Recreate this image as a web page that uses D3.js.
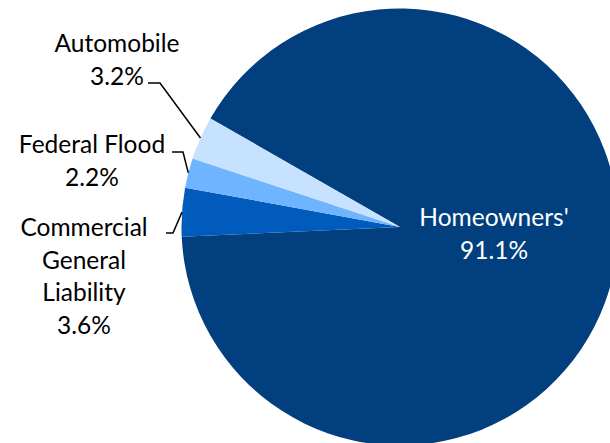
<!DOCTYPE html>
<html>
<head>
<meta charset="utf-8">
<script src="https://cdn.jsdelivr.net/npm/d3@7"></script>
<style>
  html, body { margin: 0; padding: 0; background: #fff; }
  svg { display: block; }
</style>
</head>
<body>
<div id="chart"></div>
<script>
// data
const categories = ["Homeowners'", "Commercial General Liability", "Federal Flood", "Automobile"];
const values = [91.1, 3.6, 2.2, 3.2];
const colors = ["#023f7e", "#005bbd", "#6eb4ff", "#c6e2ff"];

const width = 610, height = 443;
const cx = 400, cy = 227, r = 218.5;
const font = "Lato, 'Open Sans', sans-serif";
const fs = 24.5;

const svg = d3.select("#chart").append("svg")
    .attr("width", width)
    .attr("height", height)
    .style("overflow", "hidden");

const g = svg.append("g").attr("transform", `translate(${cx},${cy})`);

const start = -60.2 * Math.PI / 180;
const pie = d3.pie().sort(null).value(d => d)
    .startAngle(start).endAngle(start + 2 * Math.PI);
const arcs = pie(values);
const arc = d3.arc().innerRadius(0).outerRadius(r);

g.selectAll("path.slice")
    .data(arcs).enter()
    .append("path")
    .attr("class", "slice")
    .attr("d", arc)
    .attr("fill", (d, i) => colors[i]);

// label layout (lines, anchor x, first baseline, elbow)
const labels = [
    { lines: ["Homeowners'", "91.1%"], x: 494, y: 226, fill: "#fff" },
    { lines: ["Commercial", "General", "Liability", "3.6%"], x: 84, y: 236, fill: "#000",
      elbow: [[166, 233], [173, 233]] },
    { lines: ["Federal Flood", "2.2%"], x: 92, y: 153, fill: "#000",
      elbow: [[172, 152], [183, 152]] },
    { lines: ["Automobile", "3.2%"], x: 117, y: 52, fill: "#000",
      elbow: [[148, 83], [160, 83]] }
];

labels.forEach((l, i) => {
    const t = svg.append("text")
        .attr("text-anchor", "middle")
        .attr("font-family", font)
        .attr("font-size", fs)
        .attr("fill", l.fill);
    l.lines.forEach((s, k) => {
        t.append("tspan").attr("x", l.x).attr("y", l.y + k * 32.5).text(s);
    });
    if (l.elbow) {
        const a = (arcs[i].startAngle + arcs[i].endAngle) / 2;
        const px = cx + r * Math.sin(a), py = cy - r * Math.cos(a);
        const pts = l.elbow.concat([[px, py]]);
        svg.append("path")
            .attr("d", d3.line()(pts))
            .attr("fill", "none")
            .attr("stroke", "#000")
            .attr("stroke-width", 1.5);
    }
});
</script>
</body>
</html>
